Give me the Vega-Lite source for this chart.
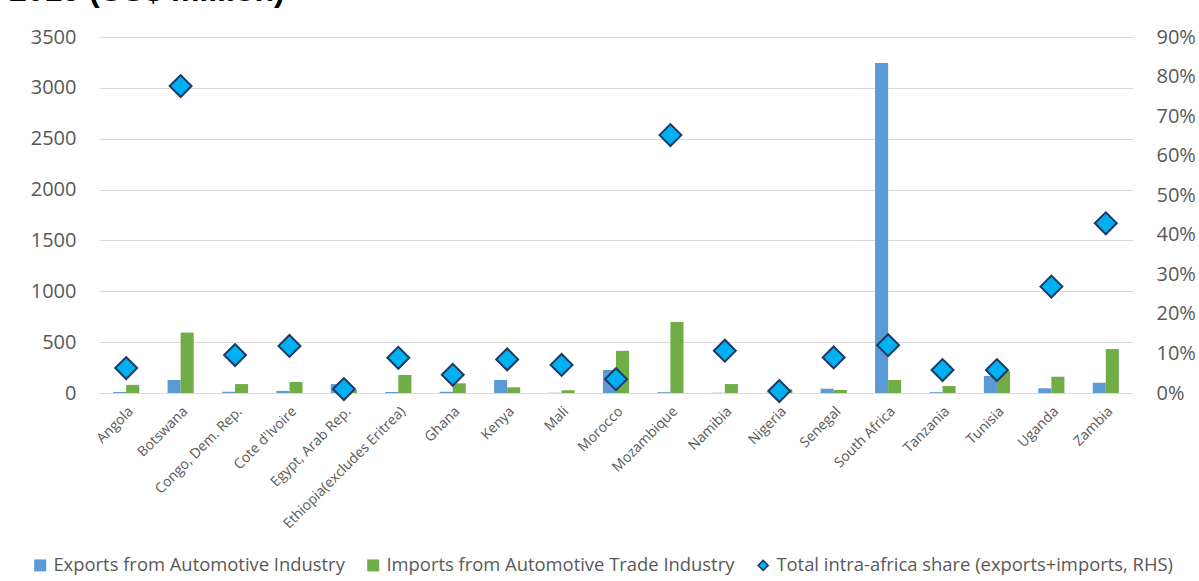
{
  "$schema": "https://vega.github.io/schema/vega-lite/v6.json",
  "width": 1034,
  "height": 356,
  "autosize": {"type": "none"},
  "padding": {"left": 99, "top": 37, "right": 66, "bottom": 188},
  "background": "white",
  "title": {
    "text": "2019 (US$ million)",
    "anchor": "start",
    "frame": "group",
    "font": "Liberation Sans",
    "fontSize": 32,
    "fontWeight": "bold",
    "color": "#000000",
    "baseline": "alphabetic",
    "offset": 20,
    "dy": 26,
    "dx": -90
  },
  "config": {"view": {"stroke": null}, "font": "Open Sans"},
  "data": {
    "values": [
      {"country": "Angola", "exports": 10, "imports": 80, "share": 0.063},
      {"country": "Botswana", "exports": 128, "imports": 594, "share": 0.776},
      {"country": "Congo, Dem. Rep.", "exports": 12, "imports": 88, "share": 0.096},
      {"country": "Cote d'Ivoire", "exports": 20, "imports": 108, "share": 0.119},
      {"country": "Egypt, Arab Rep.", "exports": 88, "imports": 30, "share": 0.010},
      {"country": "Ethiopia(excludes Eritrea)", "exports": 10, "imports": 177, "share": 0.089},
      {"country": "Ghana", "exports": 12, "imports": 95, "share": 0.046},
      {"country": "Kenya", "exports": 128, "imports": 56, "share": 0.085},
      {"country": "Mali", "exports": 2, "imports": 27, "share": 0.071},
      {"country": "Morocco", "exports": 226, "imports": 415, "share": 0.035},
      {"country": "Mozambique", "exports": 8, "imports": 698, "share": 0.652},
      {"country": "Namibia", "exports": 2, "imports": 88, "share": 0.107},
      {"country": "Nigeria", "exports": 3, "imports": 36, "share": 0.005},
      {"country": "Senegal", "exports": 42, "imports": 30, "share": 0.090},
      {"country": "South Africa", "exports": 3245, "imports": 128, "share": 0.121},
      {"country": "Tanzania", "exports": 8, "imports": 69, "share": 0.058},
      {"country": "Tunisia", "exports": 167, "imports": 216, "share": 0.058},
      {"country": "Uganda", "exports": 46, "imports": 160, "share": 0.269},
      {"country": "Zambia", "exports": 101, "imports": 432, "share": 0.429}
    ]
  },
  "encoding": {
    "x": {
      "field": "country",
      "type": "nominal",
      "sort": null,
      "scale": {"paddingInner": 0.52, "paddingOuter": 0.26},
      "axis": {
        "title": null,
        "labelAngle": -45,
        "labelFontSize": 14,
        "labelColor": "#595959",
        "labelFont": "Open Sans",
        "ticks": false,
        "domain": true,
        "domainColor": "#d9d9d9",
        "domainWidth": 1,
        "grid": false,
        "labelPadding": 11
      }
    }
  },
  "layer": [
    {
      "transform": [{"fold": ["exports", "imports"], "as": ["series", "value"]}],
      "mark": {"type": "bar"},
      "encoding": {
        "xOffset": {"field": "series", "type": "nominal", "sort": ["exports", "imports"]},
        "y": {
          "field": "value",
          "type": "quantitative",
          "scale": {"domain": [0, 3500], "nice": false},
          "axis": {
            "title": null,
            "values": [0, 500, 1000, 1500, 2000, 2500, 3000, 3500],
            "format": "d",
            "grid": true,
            "gridColor": "#d9d9d9",
            "gridWidth": 1,
            "domain": false,
            "ticks": false,
            "labelPadding": 23,
            "labelFontSize": 20,
            "labelColor": "#595959",
            "labelFont": "Open Sans"
          }
        },
        "color": {
          "field": "series",
          "type": "nominal",
          "scale": {"domain": ["exports", "imports", "share"], "range": ["#5b9bd5", "#70ad47", "#00b0f0"]},
          "legend": {
            "orient": "none",
            "legendX": -68,
            "legendY": 519,
            "direction": "horizontal",
            "title": null,
            "labelExpr": "datum.value === 'exports' ? 'Exports from Automotive Industry' : datum.value === 'imports' ? 'Imports from Automotive Trade Industry' : 'Total intra-africa share (exports+imports, RHS)'",
            "labelFontSize": 18.4,
            "labelFont": "Open Sans",
            "labelColor": "#595959",
            "labelLimit": 600,
            "symbolType": "square",
            "symbolSize": 144,
            "symbolStrokeWidth": 0,
            "columnPadding": 19,
            "labelOffset": 4,
            "encode": {
              "symbols": {
                "update": {
                  "shape": {"signal": "datum.value === 'share' ? 'diamond' : 'square'"},
                  "size": {"signal": "datum.value === 'share' ? 100 : 144"},
                  "stroke": {"signal": "datum.value === 'share' ? '#1f3864' : 'transparent'"},
                  "strokeWidth": {"signal": "datum.value === 'share' ? 1.5 : 0"}
                }
              }
            }
          }
        }
      }
    },
    {
      "transform": [{"fold": ["share"], "as": ["series", "value"]}],
      "mark": {"type": "point", "shape": "diamond", "filled": true, "size": 480, "stroke": "#1f3864", "strokeWidth": 2, "opacity": 1},
      "encoding": {
        "y": {
          "field": "value",
          "type": "quantitative",
          "scale": {"domain": [0, 0.9], "nice": false},
          "axis": {
            "orient": "right",
            "title": null,
            "values": [0, 0.1, 0.2, 0.3, 0.4, 0.5, 0.6, 0.7, 0.8, 0.9],
            "format": ".0%",
            "grid": false,
            "domain": false,
            "ticks": false,
            "labelPadding": 23,
            "labelFontSize": 20,
            "labelColor": "#595959",
            "labelFont": "Open Sans"
          }
        },
        "color": {"field": "series", "type": "nominal"}
      }
    }
  ],
  "resolve": {"scale": {"y": "independent"}}
}
